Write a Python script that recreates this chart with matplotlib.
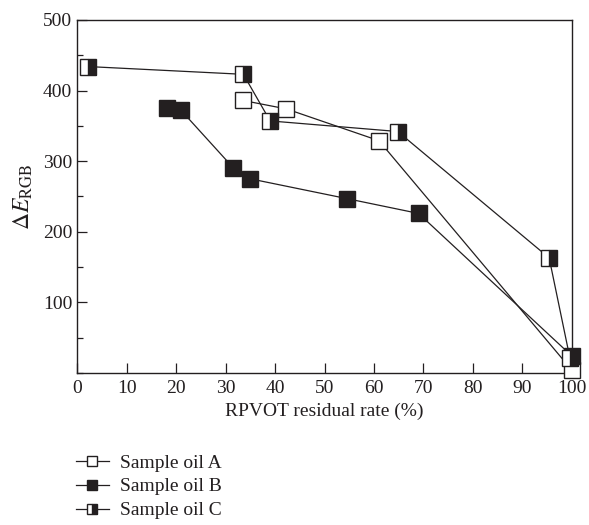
import matplotlib
matplotlib.use("Agg")
import matplotlib.pyplot as plt
from matplotlib.lines import Line2D
from matplotlib.ticker import MultipleLocator

plt.rcParams['font.family'] = ['Liberation Serif', 'DejaVu Serif']
plt.rcParams['mathtext.fontset'] = 'stix'

ink = '#231f20'

# sample oil A (open squares)
a_x = [33.5, 42.3, 61.0, 100.0]
a_y = [386, 374, 329, 4]
# sample oil B (filled squares)
b_x = [18.2, 21.0, 31.5, 35.0, 54.5, 69.0, 100.0]
b_y = [376, 372, 291, 275, 247, 226, 24]
# sample oil C (half filled squares)
c_x = [2.2, 33.6, 39.0, 64.8, 95.4, 99.6]
c_y = [434, 423, 357, 342, 163, 21]

labels = ['Sample oil A', 'Sample oil B', 'Sample oil C']

fig = plt.figure(figsize=(5.89, 5.25), dpi=100)
ax = fig.add_axes([0.131, 0.2895, 0.84, 0.6725])

ms = 12
ax.plot(a_x, a_y, color=ink, lw=0.9, marker='s', ms=ms, mfc='white',
        mec=ink, mew=1.0, clip_on=False, zorder=3)
ax.plot(b_x, b_y, color=ink, lw=0.9, marker='s', ms=ms, mfc=ink,
        mec=ink, mew=1.0, clip_on=False, zorder=3)
ax.plot(c_x, c_y, color=ink, lw=0.9, marker='s', ms=ms, fillstyle='right',
        mfc=ink, mfcalt='white', mec=ink, mew=1.0, clip_on=False, zorder=4)

ax.set_xlim(0, 100)
ax.set_ylim(0, 500)
ax.xaxis.set_major_locator(MultipleLocator(10))
ax.yaxis.set_minor_locator(MultipleLocator(50))
ax.set_yticks([100, 200, 300, 400, 500])
ax.tick_params(direction='in', which='major', length=7, width=0.9,
               labelsize=14, color=ink, labelcolor=ink)
ax.tick_params(direction='in', which='minor', length=4, width=0.9, color=ink)
ax.tick_params(axis='x', pad=5)
for s in ax.spines.values():
    s.set_linewidth(1.0)
    s.set_color(ink)

ax.set_xlabel('RPVOT residual rate (%)', fontsize=14, color=ink, labelpad=4)
ax.set_ylabel(r'$\Delta\mathit{E}_{\mathrm{RGB}}$', fontsize=17, color=ink,
              labelpad=6)

handles = [
    Line2D([], [], color=ink, lw=0.9, marker='s', ms=7, mfc='white', mec=ink),
    Line2D([], [], color=ink, lw=0.9, marker='s', ms=7, mfc=ink, mec=ink),
    Line2D([], [], color=ink, lw=0.9, marker='s', ms=7, fillstyle='right',
           mfc=ink, mfcalt='white', mec=ink),
]
fig.legend(handles, labels, loc='upper left', bbox_to_anchor=(0.115, 0.15),
           frameon=False, fontsize=14, handlelength=1.7, handletextpad=0.6,
           labelspacing=0.32, borderaxespad=0, labelcolor=ink)

fig.savefig('out.png', dpi=100)
